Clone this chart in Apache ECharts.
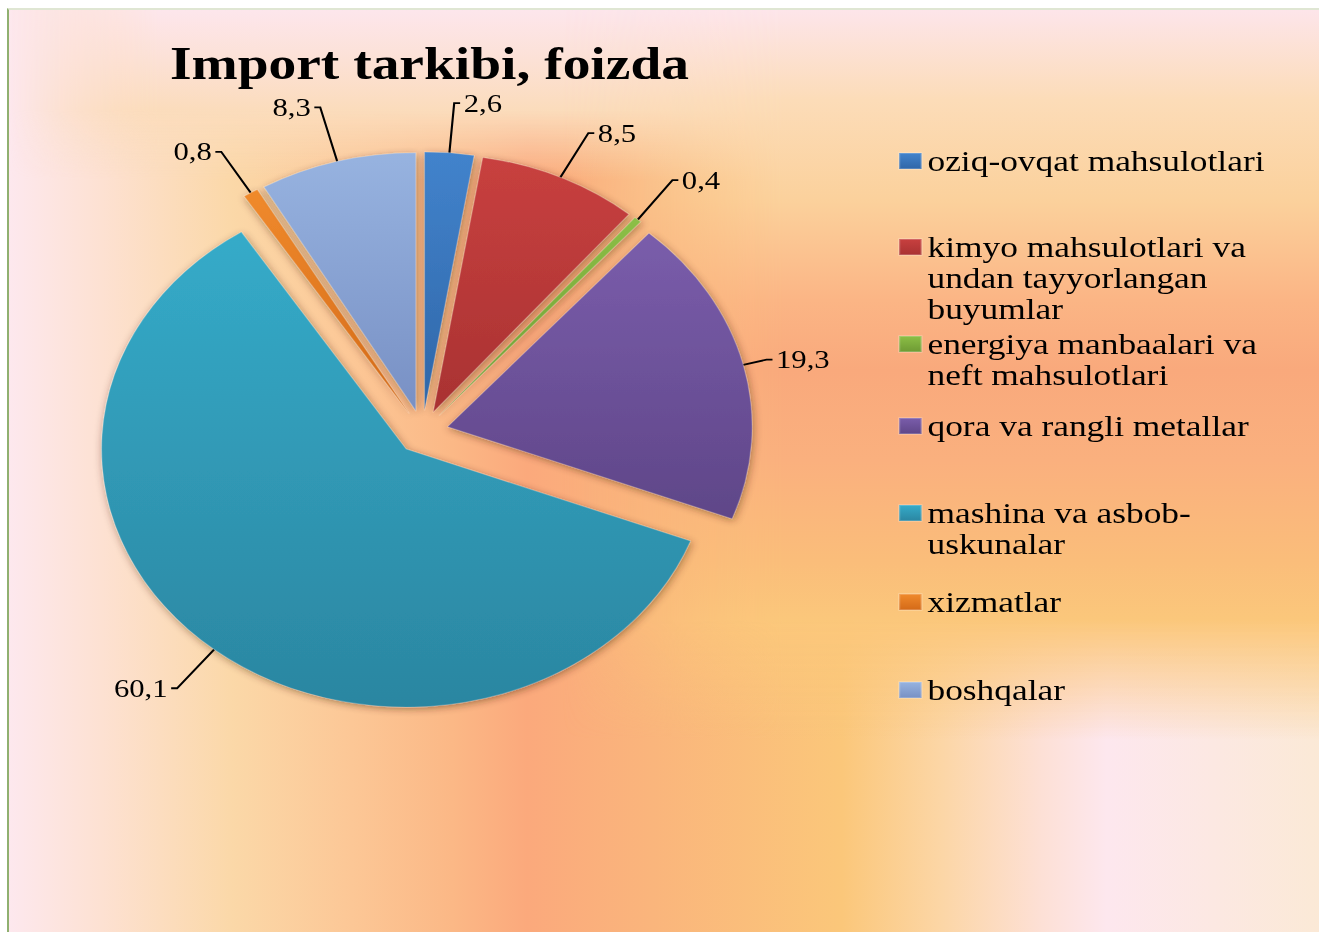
<!DOCTYPE html>
<html>
<head>
<meta charset="utf-8">
<title>Import tarkibi, foizda</title>
<script src="https://cdn.jsdelivr.net/npm/echarts@6/dist/echarts.min.js"></script>
<style>
  html, body { margin: 0; padding: 0; background: #fff; }
  body { width: 1319px; height: 932px; overflow: hidden; position: relative; }
  #bg {
    position: absolute; left: 7px; top: 8px; width: 1312px; height: 924px;
    box-sizing: border-box;
    border-top: 2px solid #dfe6d3; border-left: 2px solid #8fb070;
    background: linear-gradient(to right,
      #fde8ee 0px, #fde1d2 93px, #fbd8a8 223px, #fcc796 343px, #fbb886 443px,
      #fba97c 518px, #fab57c 643px, #fbc77a 833px, #fcd6a6 933px, #fde0d6 1033px,
      #fde7ee 1098px, #fbe9d6 1312px);
  }
  #top {
    position: absolute; left: 0; top: 0; width: 100%; height: 170px;
    background: linear-gradient(to bottom,
      #fde6ec 0px, #fce1d6 50px, #fbdcbc 100px, rgba(251,217,176,0) 170px);
    -webkit-mask-image: linear-gradient(to right, transparent 0, #000 150px);
    mask-image: linear-gradient(to right, transparent 0, #000 150px);
  }
  #side {
    position: absolute; left: 553px; top: 0; width: 759px; height: 922px;
    background: linear-gradient(to bottom,
      #fde5ea 0px, #fcdcb8 90px, #fbd19c 190px, #fbb585 290px, #f9a97c 360px,
      #fab07e 450px, #fabd7a 550px, #fbc77b 610px, rgba(251,199,123,0) 730px);
    -webkit-mask-image: linear-gradient(to right, transparent 0, #000 220px);
    mask-image: linear-gradient(to right, transparent 0, #000 220px);
  }
  #main {
    position: absolute; left: 0; top: 0;
    width: 1118px; height: 932px;
    transform: scaleX(1.18); transform-origin: 0 0;
  }
</style>
</head>
<body>
<div id="bg"><div id="top"></div><div id="side"></div></div>
<div id="main"></div>
<script>
var names = [
  'oziq-ovqat mahsulotlari',
  'kimyo mahsulotlari va undan tayyorlangan buyumlar',
  'energiya manbaalari va neft mahsulotlari',
  'qora va rangli metallar',
  'mashina va asbob-uskunalar',
  'xizmatlar',
  'boshqalar'
];
var values = [2.6, 8.5, 0.4, 19.3, 60.1, 0.8, 8.3];
var legendLines = [
  'oziq-ovqat mahsulotlari',
  'kimyo mahsulotlari va\nundan tayyorlangan\nbuyumlar',
  'energiya manbaalari va\nneft mahsulotlari',
  'qora va rangli metallar',
  'mashina va asbob-\nuskunalar',
  'xizmatlar',
  'boshqalar'
];

// top / bottom shade of each slice
var palette = [
  ['#4283cc', '#2f66a8'],
  ['#c8403f', '#a93232'],
  ['#8cbf46', '#6e9a34'],
  ['#7a5dab', '#5f4688'],
  ['#35abc9', '#2b86a1'],
  ['#f08a2c', '#d46a18'],
  ['#97b3e0', '#7890c4']
];

// centre of the first text line of each legend entry
var legendY = [161, 247, 344, 426, 513, 602, 690];
// leader line length of each value label
var lineLen = [50, 58, 52, 22, 50, 48, 56];

var serif = '"Liberation Serif", "Times New Roman", Times, serif';
var LH = 31;

var myChart = echarts.init(document.getElementById('main'), null, { renderer: 'svg' });

var pieData = names.map(function (n, i) {
  return {
    name: n,
    value: values[i],
    selected: true,
    labelLine: { length: lineLen[i] },
    itemStyle: {
      color: new echarts.graphic.LinearGradient(0, 0, 0, 1, [
        { offset: 0, color: palette[i][0] },
        { offset: 1, color: palette[i][1] }
      ])
    }
  };
});

var legends = names.map(function (n, i) {
  var extra = legendLines[i].split('\n').length - 1;
  var prefix = new Array(extra + 1).join('\n');
  return {
    data: [n],
    orient: 'vertical',
    left: 761,
    top: legendY[i] - LH / 2 - extra * LH,
    padding: 0,
    itemWidth: 19,
    itemHeight: 16,
    icon: 'rect',
    selectedMode: false,
    formatter: function () { return prefix + legendLines[i]; },
    textStyle: { fontFamily: serif, fontSize: 30, lineHeight: LH, color: '#000' }
  };
});

var option = {
  title: {
    text: 'Import tarkibi, foizda',
    left: 139,
    top: 34,
    textStyle: { fontFamily: serif, fontSize: 47, fontWeight: 'bold', color: '#000' }
  },
  legend: legends,
  series: [
    {
      type: 'pie',
      center: [358, 432],
      radius: 258,
      startAngle: 90,
      clockwise: true,
      selectedMode: 'multiple',
      selectedOffset: 22,
      animation: false,
      itemStyle: {
        borderColor: 'rgba(255,255,255,0.2)',
        borderWidth: 1,
        shadowBlur: 7,
        shadowColor: 'rgba(70,35,0,0.45)',
        shadowOffsetX: 1,
        shadowOffsetY: 2
      },
      select: {
        itemStyle: { borderColor: 'rgba(255,255,255,0.2)', borderWidth: 1 }
      },
      emphasis: { scale: false },
      label: {
        show: true,
        position: 'outside',
        fontFamily: serif,
        fontSize: 26,
        color: '#000',
        distanceToLabelLine: 3,
        formatter: function (p) { return String(p.value).replace('.', ','); }
      },
      labelLine: {
        show: true,
        length: 44,
        length2: 5,
        lineStyle: { color: '#000', width: 1.8 }
      },
      data: pieData
    }
  ]
};

myChart.setOption(option);
</script>
</body>
</html>
